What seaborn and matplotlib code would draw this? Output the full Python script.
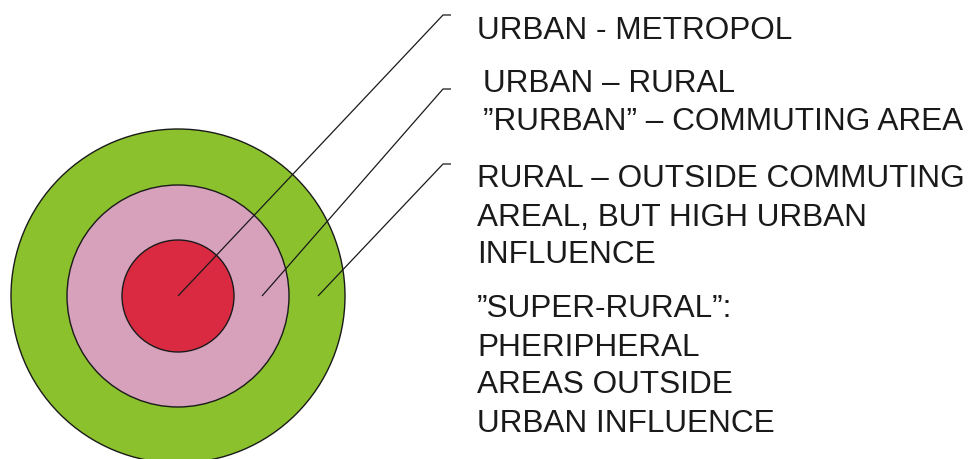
import matplotlib
matplotlib.use("Agg")
import matplotlib.pyplot as plt
from matplotlib.patches import Circle
import seaborn as sns

# Ring zones (outer to inner), radius in pixels of the 971x460 canvas
zone_names = ['Super-rural / rural', 'Rurban', 'Metropol']
zone_radius = [167, 111, 56]
zone_colors = ['#8AC12C', '#D7A0BB', '#D92A42']
center = (178, 297)

# Leader lines: start point inside a ring -> elbow near the labels
leader_start = [(178, 297), (262, 297), (318, 297)]
leader_elbow = [(443, 16), (443, 90), (443, 165)]
leader_end_x = 451

# Label lines with their x and baseline y
label_lines = [
    'URBAN - METROPOL',
    'URBAN \u2013 RURAL',
    '\u201dRURBAN\u201d \u2013 COMMUTING AREA',
    'RURAL \u2013 OUTSIDE COMMUTING',
    'AREAL, BUT HIGH URBAN',
    'INFLUENCE',
    '\u201dSUPER-RURAL\u201d:',
    'PHERIPHERAL',
    'AREAS OUTSIDE',
    'URBAN INFLUENCE',
]
label_x = [477, 483, 483, 477, 477, 477, 477, 477, 477, 477]
label_base = [39, 92, 130, 187, 226, 263, 317, 356, 393, 432]

sns.set_theme(style="white")
plt.rcParams['font.family'] = ['Liberation Sans', 'DejaVu Sans']

fig = plt.figure(figsize=(9.71, 4.6), dpi=100)
ax = fig.add_axes([0, 0, 1, 1])
ax.set_xlim(0, 971)
ax.set_ylim(460, 0)
ax.set_aspect('equal')
ax.axis('off')

for r, c in zip(zone_radius, zone_colors):
    ax.add_patch(Circle(center, r, facecolor=c, edgecolor='#1a1a1a', linewidth=1.0))

for (x0, y0), (x1, y1) in zip(leader_start, leader_elbow):
    ax.plot([x0, x1, leader_end_x], [y0, y1, y1], color='#1a1a1a', linewidth=0.9,
            solid_capstyle='butt')

for txt, x, y in zip(label_lines, label_x, label_base):
    ax.text(x, y, txt, fontsize=22.7, color='#1a1a1a', ha='left', va='baseline')

fig.savefig('out.png', dpi=100, facecolor='white')
